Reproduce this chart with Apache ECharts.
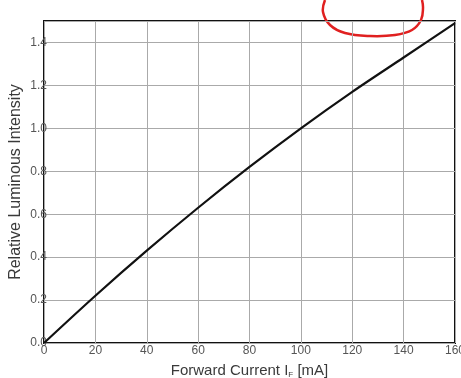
<!DOCTYPE html>
<html><head><meta charset="utf-8">
<script src="https://cdn.jsdelivr.net/npm/echarts@6/dist/echarts.min.js"></script>
<style>html,body{margin:0;padding:0;background:#fff}#c{width:461px;height:378px}</style>
</head><body><div id="c"></div>
<script>
const currents = [0, 20, 40, 60, 80, 100, 120, 140, 160];
const intensity = [0, 0.22, 0.43, 0.63, 0.82, 1.0, 1.17, 1.33, 1.49];
const xTicks = [0, 20, 40, 60, 80, 100, 120, 140, 160];
const yTicks = [0.0, 0.2, 0.4, 0.6, 0.8, 1.0, 1.2, 1.4];

const chart = echarts.init(document.getElementById('c'));
chart.setOption({
  animation: false,
  grid: {left: 44, right: 6, top: 21, bottom: 35, show: true, borderColor: '#111', borderWidth: 2,
    containLabel: false, outerBoundsMode: 'none'},
  xAxis: {
    type: 'value', min: 0, max: 160, interval: 20,
    axisLine: {show: false}, axisTick: {show: false},
    splitLine: {lineStyle: {color: '#aaa', width: 1}},
    axisLabel: {color: '#555', fontFamily: 'Liberation Sans', fontSize: 12, margin: 2,
      formatter: v => xTicks.includes(v) ? String(v) : ''},
    name: 'Forward Current I{s|F} [mA]', nameLocation: 'middle', nameGap: 19, nameMoveOverlap: false,
    nameTextStyle: {color: '#3a3a3a', fontFamily: 'Liberation Sans', fontSize: 15,
      rich: {s: {fontSize: 8, fontFamily: 'Liberation Sans', verticalAlign: 'bottom', padding: [9, 0, 0, 0], color: '#3a3a3a'}}}
  },
  yAxis: {
    type: 'value', min: 0, max: 1.5, interval: 0.2,
    axisLine: {show: false}, axisTick: {show: false},
    splitLine: {lineStyle: {color: '#aaa', width: 1}},
    axisLabel: {color: '#555', fontFamily: 'Liberation Sans', fontSize: 12, margin: -3, showMaxLabel: false,
      formatter: v => { const m = yTicks.find(t => Math.abs(t - v) < 1e-6); return m === undefined ? '' : m.toFixed(1); }},
    name: 'Relative Luminous Intensity', nameLocation: 'middle', nameGap: 20, nameMoveOverlap: false,
    nameTextStyle: {color: '#3a3a3a', fontFamily: 'Liberation Sans', fontSize: 16}
  },
  series: [{
    type: 'line', data: currents.map((c, i) => [c, intensity[i]]), smooth: 0.3,
    showSymbol: false, lineStyle: {color: '#111', width: 2.2}
  }],
  graphic: [{
    type: 'polyline', silent: true,
    shape: {points: [[325, 0], [323, 12], [330, 25], [345, 33], [370, 36], [395, 35], [412, 30], [421, 20], [423, 8], [422, 0]], smooth: 0.4},
    style: {stroke: '#e02020', lineWidth: 2.5, fill: null}
  }]
});
</script></body></html>
